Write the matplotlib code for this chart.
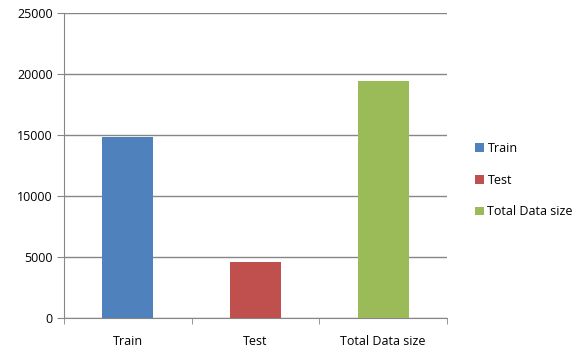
import matplotlib.pyplot as plt
import numpy as np

categories = ["Train", "Test", "Total Data size"]
values = [14850, 4580, 19450]
colors = ["#4F81BD", "#C0504D", "#9BBB59"]

plt.rcParams['font.family'] = ['Open Sans', 'DejaVu Sans']

fig = plt.figure(figsize=(5.87, 3.52), dpi=100)
ax = fig.add_axes([0.109, 0.0966, 0.6525, 0.8665])

x = np.arange(len(categories))
for i in range(len(categories)):
    ax.bar(x[i], values[i], width=0.4, color=colors[i], label=categories[i], zorder=3)

ax.set_xlim(-0.5, 2.5)
ax.set_ylim(0, 25000)
ax.set_yticks(np.arange(0, 25001, 5000))
ax.set_xticks(x)
ax.set_xticklabels(categories, fontsize=9)
ax.set_xticks(np.arange(-0.5, 2.6, 1), minor=True)
ax.tick_params(axis='x', which='major', length=0, pad=12)
ax.tick_params(axis='x', which='minor', length=4, color="#868686")
ax.tick_params(axis='y', length=5, color="#868686", labelsize=9, pad=3)
ax.grid(axis='y', color="#868686", linewidth=1, zorder=0)

for s in ["top", "right"]:
    ax.spines[s].set_visible(False)
for s in ["left", "bottom"]:
    ax.spines[s].set_color("#868686")

fig.legend(loc="center left", bbox_to_anchor=(0.79, 0.488), frameon=False,
           fontsize=9, handlelength=0.7, handleheight=0.7, handletextpad=0.3,
           labelspacing=1.5)

fig.savefig("out.png", dpi=100)
